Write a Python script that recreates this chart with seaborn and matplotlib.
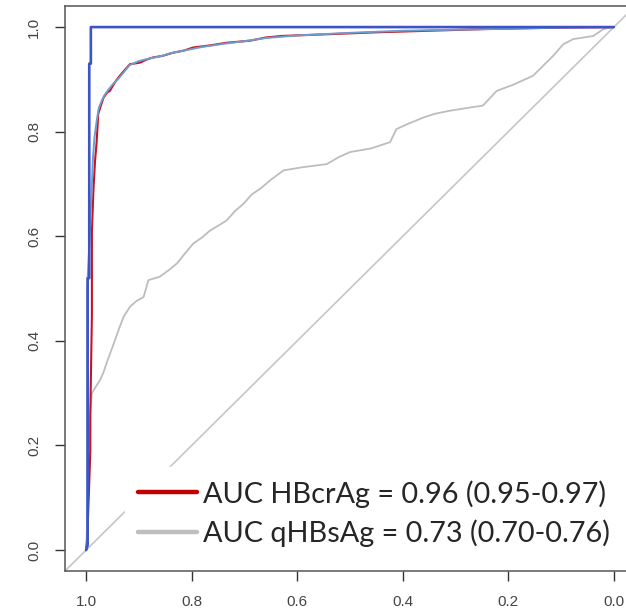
import matplotlib
matplotlib.use("Agg")
import matplotlib.pyplot as plt
import seaborn as sns

# ROC data (x = specificity, y = sensitivity)
spec_dark = [1.0, 0.997, 0.997, 0.994, 0.994, 0.991, 0.991, 0.0]
sens_dark = [0.0, 0.01, 0.52, 0.52, 0.93, 0.93, 1.0, 1.0]

spec_red = [1.0, 0.998, 0.995, 0.992, 0.992, 0.989, 0.989, 0.986, 0.983, 0.980, 0.977, 0.972,
            0.967, 0.960, 0.955, 0.945, 0.936, 0.925, 0.917, 0.898, 0.885, 0.873, 0.855, 0.835,
            0.815, 0.797, 0.765, 0.734, 0.689, 0.660, 0.630, 0.550, 0.450, 0.350, 0.250, 0.100, 0.0]
sens_red = [0.0, 0.02, 0.10, 0.19, 0.26, 0.45, 0.61, 0.69, 0.745, 0.78, 0.834, 0.85,
            0.865, 0.875, 0.878, 0.895, 0.907, 0.92, 0.929, 0.932, 0.938, 0.942, 0.945, 0.951,
            0.955, 0.961, 0.965, 0.970, 0.974, 0.980, 0.983, 0.986, 0.990, 0.993, 0.996, 0.999, 1.0]

spec_lb = [1.0, 0.998, 0.998, 0.993, 0.989, 0.987, 0.984, 0.980, 0.976, 0.970, 0.965, 0.958,
           0.950, 0.940, 0.930, 0.918, 0.900, 0.880, 0.860, 0.840, 0.810, 0.780, 0.740, 0.700,
           0.660, 0.600, 0.500, 0.400, 0.300, 0.200, 0.100, 0.0]
sens_lb = [0.0, 0.01, 0.50, 0.60, 0.70, 0.75, 0.79, 0.82, 0.845, 0.86, 0.87, 0.88,
           0.89, 0.90, 0.912, 0.927, 0.935, 0.94, 0.944, 0.95, 0.956, 0.962, 0.968, 0.973,
           0.979, 0.984, 0.989, 0.993, 0.995, 0.997, 0.999, 1.0]

spec_gray = [1.0, 0.998, 0.996, 0.994, 0.992, 0.989, 0.980, 0.973, 0.967, 0.961, 0.953, 0.945,
             0.937, 0.929, 0.917, 0.905, 0.891, 0.882, 0.860, 0.845, 0.828, 0.812, 0.797, 0.780,
             0.765, 0.750, 0.734, 0.718, 0.702, 0.686, 0.670, 0.650, 0.626, 0.590, 0.544, 0.520,
             0.500, 0.460, 0.424, 0.412, 0.390, 0.361, 0.340, 0.311, 0.280, 0.248, 0.222, 0.190,
             0.153, 0.134, 0.115, 0.096, 0.077, 0.039, 0.020, 0.004, 0.0]
sens_gray = [0.0, 0.05, 0.12, 0.20, 0.26, 0.30, 0.315, 0.326, 0.340, 0.358, 0.380, 0.402,
             0.425, 0.446, 0.465, 0.476, 0.484, 0.516, 0.523, 0.534, 0.548, 0.568, 0.586, 0.598,
             0.611, 0.620, 0.630, 0.648, 0.662, 0.680, 0.691, 0.708, 0.726, 0.732, 0.738, 0.752,
             0.761, 0.768, 0.780, 0.805, 0.815, 0.827, 0.834, 0.840, 0.845, 0.850, 0.878, 0.890,
             0.907, 0.926, 0.945, 0.967, 0.977, 0.983, 0.996, 1.0, 1.0]

ticks = [1.0, 0.8, 0.6, 0.4, 0.2, 0.0]
tick_labels = ["1.0", "0.8", "0.6", "0.4", "0.2", "0.0"]
legend_labels = ["AUC HBcrAg = 0.96 (0.95-0.97)", "AUC qHBsAg = 0.73 (0.70-0.76)"]

sns.set_style("white")

fig = plt.figure(figsize=(6.26, 6.10), dpi=100)
ax = fig.add_axes([0.1038, 0.0639, 0.9105, 0.926])

# chance diagonal
ax.axline((1, 0), (0, 1), color="#c6c6c6", lw=1.2, zorder=1)

sns.lineplot(x=spec_gray, y=sens_gray, sort=False, estimator=None, color="#bdbdbd",
             lw=1.3, ax=ax, label=legend_labels[1])
sns.lineplot(x=spec_red, y=sens_red, sort=False, estimator=None, color="#c8141c",
             lw=1.5, ax=ax, label=legend_labels[0])
sns.lineplot(x=spec_lb, y=sens_lb, sort=False, estimator=None, color="#6f9cce",
             lw=1.4, ax=ax, label="_nolegend_")
sns.lineplot(x=spec_dark, y=sens_dark, sort=False, estimator=None, color="#3d54c6",
             lw=1.9, ax=ax, label="_nolegend_")

ax.set_xlim(1.04, -0.04)
ax.set_ylim(-0.04, 1.04)
ax.set_xticks(ticks)
ax.set_xticklabels(tick_labels, family="Liberation Sans", fontsize=11, color="#444444")
ax.set_yticks(ticks)
ax.set_yticklabels(tick_labels, family="Liberation Sans", fontsize=11, color="#444444",
                   rotation=90, va="center")
ax.tick_params(axis="both", direction="out", length=7, width=1, color="#333333", pad=10,
               bottom=True, left=True)
for sp in ax.spines.values():
    sp.set_color("#555555")
    sp.set_linewidth(1.1)
ax.set_xlabel("")
ax.set_ylabel("")

# legend: red line first, then gray
handles, labels = ax.get_legend_handles_labels()
order = [labels.index(legend_labels[0]), labels.index(legend_labels[1])]
leg = ax.legend([handles[i] for i in order], [labels[i] for i in order],
                loc="upper left", bbox_to_anchor=(125 / 626, 1 - 467 / 610),
                bbox_transform=fig.transFigure, borderaxespad=0, borderpad=0.45,
                handlelength=2.05, handletextpad=0.2, labelspacing=0.4,
                frameon=True, fancybox=False, framealpha=1, edgecolor="white",
                facecolor="white", prop={"family": "Lato", "size": 20.8})
leg.legend_handles[0].set_color("#c00000")
leg.legend_handles[0].set_linewidth(3.2)
leg.legend_handles[1].set_color("#bfbfbf")
leg.legend_handles[1].set_linewidth(3.2)

fig.savefig("out.png", dpi=100)
